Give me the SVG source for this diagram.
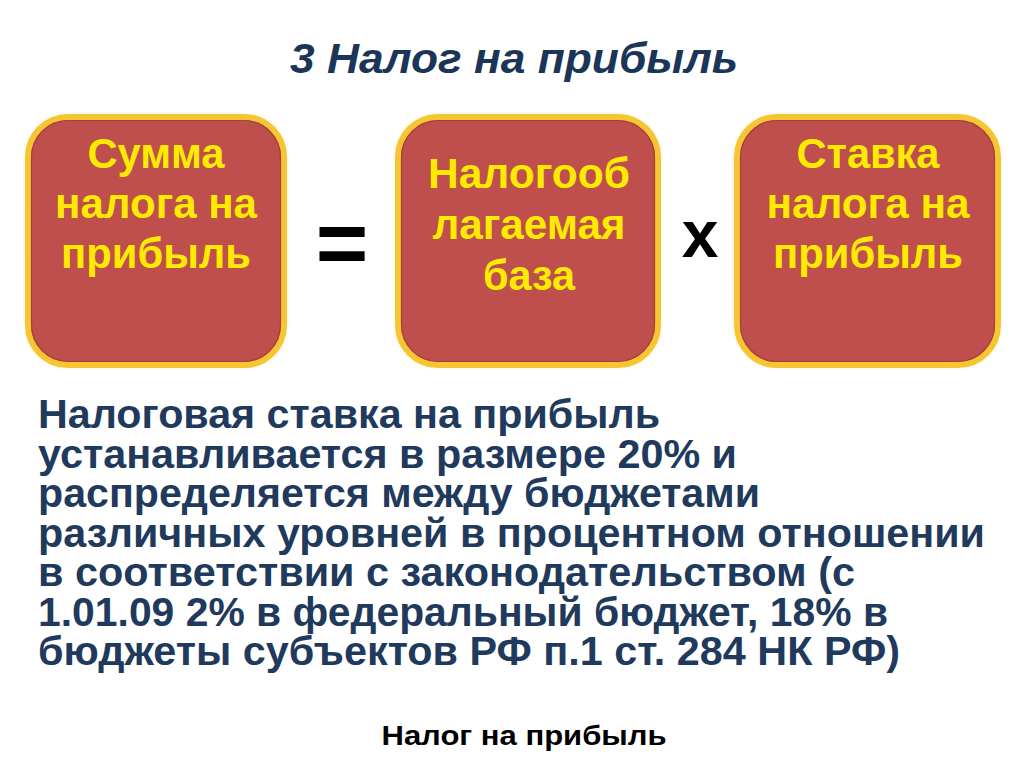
<svg xmlns="http://www.w3.org/2000/svg" width="1024" height="767" viewBox="0 0 1024 767">
  <defs>
    <style>
      .box { fill: #BE4F4C; stroke: #F7C531; stroke-width: 6; }
      .inner { fill: none; stroke: #A33F3C; stroke-width: 1.2; }
      .bt { font-family: "Liberation Sans", Arial, sans-serif; font-weight: bold; font-size: 42px; fill: #FFEB00; text-anchor: middle; }
      .body { font-family: "Liberation Sans", Arial, sans-serif; font-weight: bold; font-size: 40px; fill: #1F3A5C; }
      .op { font-family: "Liberation Sans", Arial, sans-serif; font-weight: bold; fill: #000000; text-anchor: middle; }
    </style>
    <filter id="glow" x="-10%" y="-10%" width="120%" height="120%">
      <feGaussianBlur stdDeviation="2"/>
    </filter>
  </defs>
  <rect x="0" y="0" width="1024" height="767" fill="#FFFFFF"/>

  <text id="title" x="514" y="73" font-family="Liberation Sans, Arial, sans-serif" font-weight="bold" font-style="italic" font-size="43" fill="#1B3558" text-anchor="middle" textLength="448" lengthAdjust="spacingAndGlyphs">3 Налог на прибыль</text>

  <g id="node-sum">
    <rect x="26" y="115" width="260" height="252" rx="42" ry="42" fill="#F7C531" opacity="0.35" filter="url(#glow)"/>
    <rect class="box" x="28" y="117" width="256" height="248" rx="40" ry="40"/>
    <rect class="inner" x="31.5" y="120.5" width="249" height="241" rx="37" ry="37"/>
    <text class="bt" x="156" y="168" textLength="137" lengthAdjust="spacingAndGlyphs">Сумма</text>
    <text class="bt" x="156" y="218" textLength="202" lengthAdjust="spacingAndGlyphs">налога на</text>
    <text class="bt" x="156" y="268" textLength="190" lengthAdjust="spacingAndGlyphs">прибыль</text>
  </g>

  <g id="node-base">
    <rect x="396" y="115" width="264" height="252" rx="42" ry="42" fill="#F7C531" opacity="0.35" filter="url(#glow)"/>
    <rect class="box" x="398" y="117" width="260" height="248" rx="40" ry="40"/>
    <rect class="inner" x="401.5" y="120.5" width="253" height="241" rx="37" ry="37"/>
    <text class="bt" x="529" y="188" textLength="202" lengthAdjust="spacingAndGlyphs">Налогооб</text>
    <text class="bt" x="529" y="239" textLength="193" lengthAdjust="spacingAndGlyphs">лагаемая</text>
    <text class="bt" x="529" y="290" textLength="92" lengthAdjust="spacingAndGlyphs">база</text>
  </g>

  <g id="node-rate">
    <rect x="735" y="115" width="265" height="252" rx="42" ry="42" fill="#F7C531" opacity="0.35" filter="url(#glow)"/>
    <rect class="box" x="737" y="117" width="261" height="248" rx="40" ry="40"/>
    <rect class="inner" x="740.5" y="120.5" width="254" height="241" rx="37" ry="37"/>
    <text class="bt" x="868" y="168" textLength="143" lengthAdjust="spacingAndGlyphs">Ставка</text>
    <text class="bt" x="868" y="218" textLength="203" lengthAdjust="spacingAndGlyphs">налога на</text>
    <text class="bt" x="868" y="268" textLength="190" lengthAdjust="spacingAndGlyphs">прибыль</text>
  </g>

  <g id="connectors">
    <text class="op" x="342" y="274" font-size="90">=</text>
    <text class="op" x="700" y="257" font-size="66">x</text>
  </g>

  <g id="description">
    <text class="body" x="38" y="428" textLength="622" lengthAdjust="spacingAndGlyphs">Налоговая ставка на прибыль</text>
    <text class="body" x="38" y="467.5" textLength="699" lengthAdjust="spacingAndGlyphs">устанавливается в размере 20% и</text>
    <text class="body" x="38" y="507" textLength="722" lengthAdjust="spacingAndGlyphs">распределяется между бюджетами</text>
    <text class="body" x="38" y="546.5" textLength="947" lengthAdjust="spacingAndGlyphs">различных уровней в процентном отношении</text>
    <text class="body" x="38" y="586" textLength="817" lengthAdjust="spacingAndGlyphs">в соответствии с законодательством (с</text>
    <text class="body" x="38" y="625.5" textLength="850" lengthAdjust="spacingAndGlyphs">1.01.09 2% в федеральный бюджет, 18% в</text>
    <text class="body" x="38" y="665" textLength="862" lengthAdjust="spacingAndGlyphs">бюджеты субъектов РФ п.1 ст. 284 НК РФ)</text>
  </g>

  <text id="footer" x="524" y="745" font-family="Liberation Sans, Arial, sans-serif" font-weight="bold" font-size="27" fill="#000000" text-anchor="middle" textLength="285" lengthAdjust="spacingAndGlyphs">Налог на прибыль</text>
</svg>
